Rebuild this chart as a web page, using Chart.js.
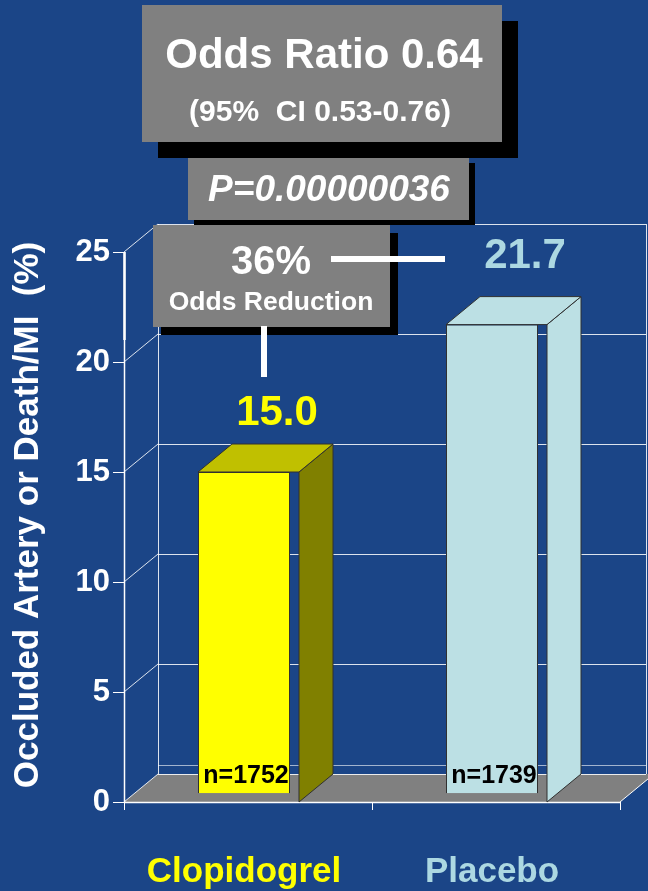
<!DOCTYPE html>
<html>
<head>
<meta charset="utf-8">
<script src="https://cdn.jsdelivr.net/npm/chart.js@4.4.1/dist/chart.umd.min.js"></script>
<style>
  html, body { margin: 0; padding: 0; background: #1b4587; }
  canvas { display: block; }
</style>
</head>
<body>
<canvas id="chart" width="648" height="891"></canvas>
<script>
// ---- data ----
const categories = ['Clopidogrel', 'Placebo'];
const eventRates = [15.0, 21.7];          // occluded artery or death/MI, %
const sampleSizes = [1752, 1739];
const yTickValues = [0, 5, 10, 15, 20, 25];
const oddsRatio = 0.64;
const ciBounds = [0.53, 0.76];
const pValue = '0.00000036';
const oddsReductionPct = 36;
const yTitle = 'Occluded Artery or Death/MI  (%)';

// ---- look ----
const FONT = '"Liberation Sans", Arial, sans-serif';
const BG = '#1b4587';
const DEPTH = { dx: 34, dy: -28 };       // receding offset of the 3-D box
const AXIS_SHIFT = 4;                     // front axis sits a little right of the plot edge
const SIDE_GAP = 9;                       // gap between bar front and its side face
const BAR_BASE = 0.4;                     // front faces stop just above the floor edge
const frontColors = ['#ffff00', '#bce0e4'];
const topColors   = ['#c0c000', '#bce0e4'];
const sideColors  = ['#808000', '#bce0e4'];
const labelColors = ['#ffff00', '#acd8e2'];
const valueLift   = [47, 57];             // value label baseline above bar top
const valueShift  = 33;                   // value label centre right of bar centre

function line(ctx, x1, y1, x2, y2, color, w) {
  ctx.beginPath();
  ctx.moveTo(x1, y1);
  ctx.lineTo(x2, y2);
  ctx.strokeStyle = color;
  ctx.lineWidth = w || 1;
  ctx.stroke();
}
function poly(ctx, pts, fill, stroke) {
  ctx.beginPath();
  ctx.moveTo(pts[0][0], pts[0][1]);
  for (let i = 1; i < pts.length; i++) ctx.lineTo(pts[i][0], pts[i][1]);
  ctx.closePath();
  ctx.fillStyle = fill;
  ctx.fill();
  if (stroke) { ctx.strokeStyle = stroke; ctx.lineWidth = 1; ctx.stroke(); }
}
function text(ctx, str, x, y, font, color, align) {
  ctx.font = font;
  ctx.fillStyle = color;
  ctx.textAlign = align || 'center';
  ctx.textBaseline = 'alphabetic';
  ctx.fillText(str, x, y);
}
function shadowBox(ctx, x, y, w, h, sx, sy) {
  ctx.fillStyle = '#000';
  ctx.fillRect(x + sx, y + sy, w, h);
  ctx.fillStyle = '#808080';
  ctx.fillRect(x, y, w, h);
}

// Back wall, floor and front axis of the 3-D frame
const frame3d = {
  id: 'frame3d',
  beforeDatasetsDraw(chart) {
    const { ctx, chartArea: a, scales: { x, y } } = chart;
    const fx = a.left + AXIS_SHIFT;
    const bx = fx + DEPTH.dx;
    const wallRight = chart.width - 2;
    const y0 = y.getPixelForValue(0);
    const yTop = y.getPixelForValue(yTickValues[yTickValues.length - 1]);
    const grid = 'rgba(255,255,255,0.85)';
    ctx.save();

    // floor
    const fr = a.right + AXIS_SHIFT;
    poly(ctx, [[fx, y0], [fr, y0], [fr + DEPTH.dx, y0 + DEPTH.dy], [bx, y0 + DEPTH.dy]], '#808080');

    // back wall grid
    yTickValues.forEach(v => {
      const yb = y.getPixelForValue(v) + DEPTH.dy;
      line(ctx, bx, yb + 0.5, wallRight, yb + 0.5, grid, 1);
    });
    line(ctx, bx, y0 + DEPTH.dy - 9 + 0.5, wallRight, y0 + DEPTH.dy - 9 + 0.5, 'rgba(255,255,255,0.6)', 1);
    line(ctx, bx + 0.5, yTop + DEPTH.dy, bx + 0.5, y0 + DEPTH.dy, grid, 1);
    line(ctx, wallRight + 0.5, yTop + DEPTH.dy, wallRight + 0.5, y0 + DEPTH.dy, grid, 1);

    // front value axis with ticks and receding connectors
    line(ctx, fx + 0.5, yTop, fx + 0.5, y0, '#ffffff', 1.5);
    line(ctx, fx + 0.5, yTop, fx + 0.5, y.getPixelForValue(21), '#ffffff', 2.5);
    yTickValues.forEach(v => {
      const yf = y.getPixelForValue(v);
      line(ctx, fx - 11, yf + 0.5, fx, yf + 0.5, '#ffffff', 1);
      line(ctx, fx, yf, bx, yf + DEPTH.dy, grid, 1);
    });

    // floor front edge and category ticks
    line(ctx, fx, y0 + 0.5, fr, y0 + 0.5, '#ffffff', 1.5);
    line(ctx, fr, y0, fr + DEPTH.dx, y0 + DEPTH.dy, '#ffffff', 1);
    [fx, x.getPixelForValue(0.5) + AXIS_SHIFT, fr].forEach(px => {
      line(ctx, px + 0.5, y0, px + 0.5, y0 + 8, '#ffffff', 1);
    });
    ctx.restore();
  },

  // top and side faces of each bar, plus sample size labels
  afterDatasetsDraw(chart) {
    const { ctx, scales: { y } } = chart;
    const meta = chart.getDatasetMeta(0);
    const y0 = y.getPixelForValue(0);
    ctx.save();
    meta.data.forEach((bar, i) => {
      const left = bar.x - bar.width / 2;
      const right = bar.x + bar.width / 2;
      const sx = right + SIDE_GAP;
      poly(ctx, [[sx, bar.y], [sx + DEPTH.dx, bar.y + DEPTH.dy], [sx + DEPTH.dx, y0 + DEPTH.dy], [sx, y0]],
        sideColors[i], '#303030');
      poly(ctx, [[left, bar.y], [sx, bar.y], [sx + DEPTH.dx, bar.y + DEPTH.dy], [left + DEPTH.dx, bar.y + DEPTH.dy]],
        topColors[i], '#303030');
      text(ctx, 'n=' + sampleSizes[i], bar.x + 2, y0 - 19, `bold 25px ${FONT}`, '#000000');
    });
    ctx.restore();
  },

  // statistics call-outs, value labels and axis title
  afterDraw(chart) {
    const { ctx } = chart;
    const meta = chart.getDatasetMeta(0);
    ctx.save();

    shadowBox(ctx, 142, 5, 360, 137, 16, 16);
    text(ctx, 'Odds Ratio ' + oddsRatio.toFixed(2), 324, 68, `bold 42px ${FONT}`, '#ffffff');
    text(ctx, `(95%  CI ${ciBounds[0].toFixed(2)}-${ciBounds[1].toFixed(2)})`, 320, 121, `bold 30px ${FONT}`, '#ffffff');

    shadowBox(ctx, 188, 158, 281, 62, 6, 5);
    text(ctx, 'P=' + pValue, 329, 201, `italic bold 37px ${FONT}`, '#ffffff');

    shadowBox(ctx, 153, 225, 237, 102, 8, 8);
    text(ctx, oddsReductionPct + '%', 271, 274, `bold 40px ${FONT}`, '#ffffff');
    text(ctx, 'Odds Reduction', 271, 310, `bold 26.5px ${FONT}`, '#ffffff');

    // connectors from the call-out to both bars
    ctx.fillStyle = '#ffffff';
    ctx.fillRect(331, 256, 114, 6);
    ctx.fillRect(261, 326, 6, 51);

    meta.data.forEach((bar, i) => {
      text(ctx, eventRates[i].toFixed(1), bar.x + valueShift, bar.y - valueLift[i], `bold 42px ${FONT}`, labelColors[i]);
    });

    ctx.translate(28, 515);
    ctx.rotate(-Math.PI / 2);
    ctx.font = `bold 35px ${FONT}`;
    ctx.fillStyle = '#ffffff';
    ctx.textAlign = 'center';
    ctx.textBaseline = 'middle';
    ctx.fillText(yTitle, 0, 0);
    ctx.restore();
  }
};

const background = {
  id: 'background',
  beforeDraw(chart) {
    const { ctx } = chart;
    ctx.save();
    ctx.fillStyle = BG;
    ctx.fillRect(0, 0, chart.width, chart.height);
    ctx.restore();
  }
};

new Chart(document.getElementById('chart'), {
  type: 'bar',
  data: {
    labels: categories,
    datasets: [{
      data: eventRates,
      base: BAR_BASE,
      backgroundColor: frontColors,
      borderColor: '#303030',
      borderWidth: 1,
      categoryPercentage: 1,
      barPercentage: 0.371
    }]
  },
  options: {
    responsive: false,
    animation: false,
    devicePixelRatio: 1,
    layout: { padding: { top: 252, right: 32, left: 0, bottom: 0 } },
    plugins: { legend: { display: false }, tooltip: { enabled: false } },
    scales: {
      x: {
        grid: { display: false },
        border: { display: false },
        ticks: {
          color: c => labelColors[c.index],
          font: { family: FONT, size: 35, weight: 'bold' },
          padding: 41,
          maxRotation: 0,
          autoSkip: false
        },
        afterFit(scale) { scale.height = 89; }
      },
      y: {
        min: 0,
        max: 25,
        grid: { display: false, drawTicks: false },
        border: { display: false },
        ticks: {
          stepSize: 5,
          color: '#ffffff',
          font: { family: FONT, size: 31, weight: 'bold' },
          padding: 10
        },
        afterFit(scale) { scale.width = 120; }
      }
    }
  },
  plugins: [background, frame3d]
});
</script>
</body>
</html>
